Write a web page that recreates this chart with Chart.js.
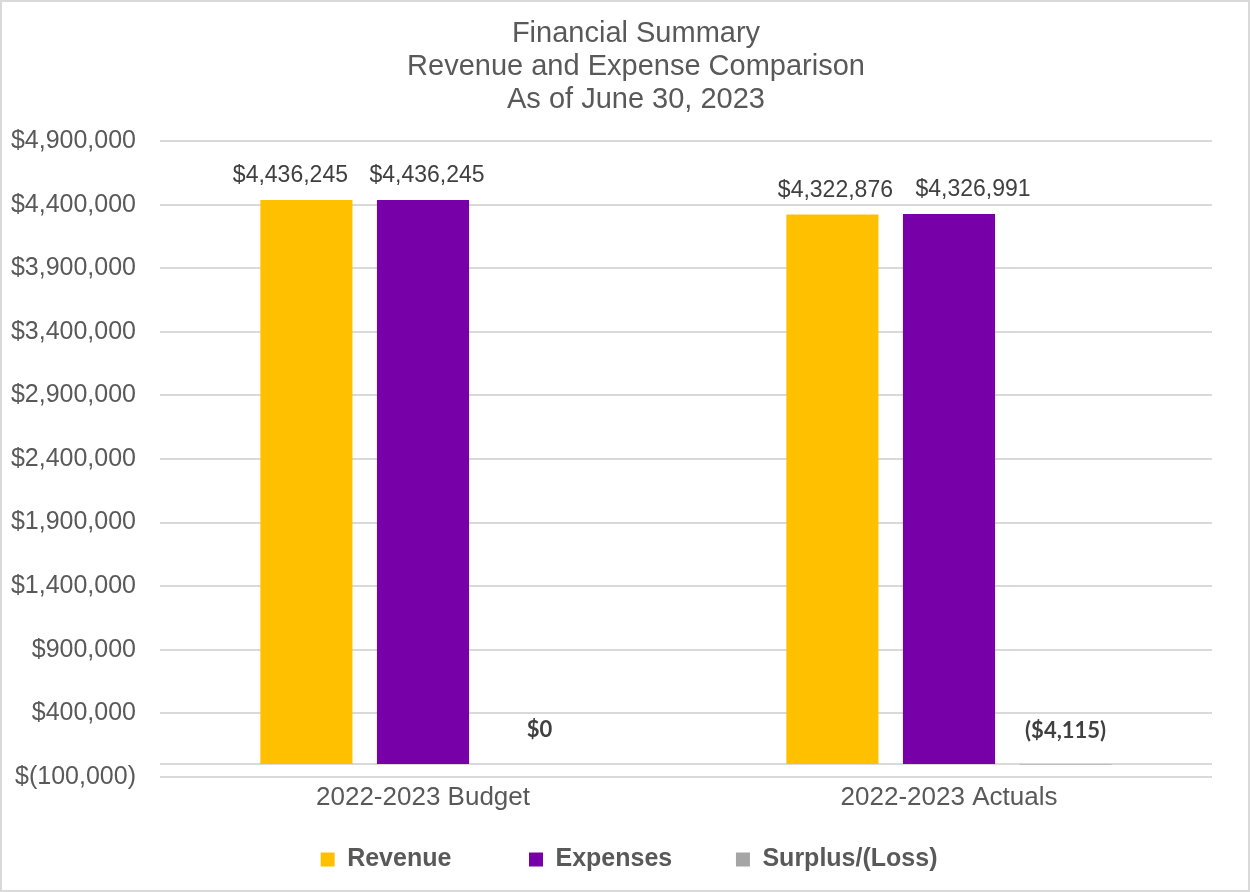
<!DOCTYPE html>
<html>
<head>
<meta charset="utf-8">
<script src="https://cdn.jsdelivr.net/npm/chart.js@4.4.0/dist/chart.umd.min.js"></script>
<style>
    html, body { margin: 0; padding: 0; background: #fff; }
    #wrap { width: 1250px; height: 892px; box-sizing: border-box; border: 2px solid #d9d9d9; position: relative; }
</style>
</head>
<body>
<div id="wrap"><canvas id="myChart"></canvas></div>
<script>
var categories = ['2022-2023 Budget', '2022-2023 Actuals'];
var revenue = [4436245, 4322876];
var expenses = [4436245, 4326991];
var surplus = [0, -4115];
var titleLines = ['Financial Summary', 'Revenue and Expense Comparison', 'As of June 30, 2023'];
var yMin = -100000, yMax = 4900000, yStep = 500000;

var font = 'Arial, "Liberation Sans"';

function money(v) {
    var s = '$' + Math.abs(v).toLocaleString('en-US');
    return v < 0 ? '(' + s + ')' : s;
}

// Excel separa un poco las etiquetas para que no se pisen
var labelShift = [[-16, 3], [4, 24], [0, 0]];
// espacio extra a la derecha de cada texto de la leyenda
var legendGap = ['       ', '     ', '  '];

// linea del cero y etiquetas de datos
var extras = {
    id: 'extras',
    afterLayout: function(chart) {
        // deja que las etiquetas del eje Y usen el margen izquierdo
        chart.scales.y.left = 0;
    },
    beforeDatasetsDraw: function(chart) {
        var ctx = chart.ctx, y = chart.scales.y, area = chart.chartArea;
        var y0 = y.getPixelForValue(0);
        ctx.save();
        ctx.strokeStyle = '#d9d9d9';
        ctx.lineWidth = 2;
        ctx.beginPath();
        ctx.moveTo(area.left, y0);
        ctx.lineTo(area.right, y0);
        ctx.stroke();
        ctx.restore();
    },
    afterDatasetsDraw: function(chart) {
        var ctx = chart.ctx;
        ctx.save();
        ctx.textAlign = 'center';
        ctx.textBaseline = 'middle';
        ctx.fillStyle = '#404040';
        chart.data.datasets.forEach(function(ds, i) {
            chart.getDatasetMeta(i).data.forEach(function(bar, j) {
                var v = ds.data[j];
                var dx = labelShift[i][j];
                if (i < 2) {
                    ctx.font = '23px ' + font;
                    ctx.fillText(money(v), bar.x + dx, bar.y - 24);
                } else {
                    ctx.font = 'bold 22px Lato, "Open Sans"';
                    ctx.fillText(money(v), bar.x + dx, bar.y - 34);
                }
            });
        });
        ctx.restore();
    }
};

var ctx = document.getElementById('myChart').getContext('2d');
var chart = new Chart(ctx, {
    type: 'bar',
    data: {
        labels: categories,
        datasets: [
            { label: 'Revenue', data: revenue, backgroundColor: '#FFC000' },
            { label: 'Expenses', data: expenses, backgroundColor: '#7800A8' },
            { label: 'Surplus/(Loss)', data: surplus, backgroundColor: '#A5A5A5' }
        ]
    },
    options: {
        responsive: true,
        maintainAspectRatio: false,
        animation: false,
        categoryPercentage: 0.665,
        barPercentage: 0.79,
        layout: { padding: { left: 58, right: 36, top: 10, bottom: 8 } },
        plugins: {
            title: {
                display: true,
                text: titleLines,
                color: '#595959',
                font: { family: font, size: 29, weight: 'normal', lineHeight: 1.15 },
                padding: { top: 5, bottom: 24 }
            },
            legend: {
                position: 'bottom',
                labels: {
                    boxWidth: 14,
                    boxHeight: 14,
                    padding: 29,
                    color: '#595959',
                    font: { family: font, size: 25, weight: 'bold' },
                    generateLabels: function(chart) {
                        var items = Chart.defaults.plugins.legend.labels.generateLabels(chart);
                        items.forEach(function(it, k) {
                            it.text = it.text + legendGap[k];
                        });
                        return items;
                    }
                }
            },
            tooltip: { enabled: false }
        },
        scales: {
            x: {
                grid: { display: false, drawTicks: false },
                border: { display: false },
                ticks: {
                    color: '#595959',
                    padding: 5,
                    font: { family: font, size: 26 }
                }
            },
            y: {
                min: yMin,
                max: yMax,
                grid: { color: '#d9d9d9', lineWidth: 2, drawTicks: false },
                border: { display: false },
                afterFit: function(scale) { scale.width = 100; },
                ticks: {
                    stepSize: yStep,
                    color: '#595959',
                    padding: 24,
                    font: { family: font, size: 25 },
                    callback: function(v) {
                        return v < 0 ? '$(' + Math.abs(v).toLocaleString('en-US') + ')' : '$' + v.toLocaleString('en-US');
                    }
                }
            }
        }
    },
    plugins: [extras]
});
</script>
</body>
</html>
